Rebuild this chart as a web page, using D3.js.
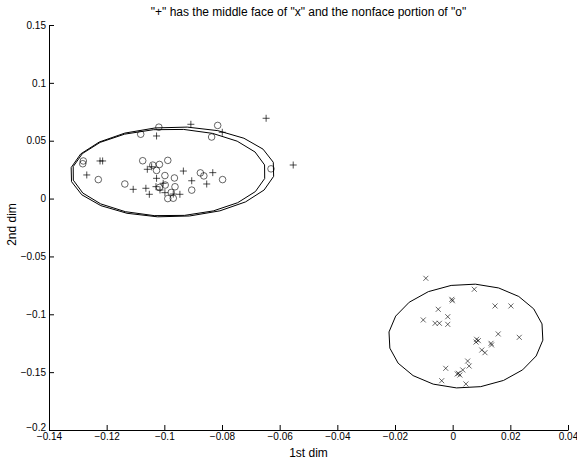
<!DOCTYPE html>
<html>
<head>
<meta charset="utf-8">
<script src="https://cdn.jsdelivr.net/npm/d3@7"></script>
<style>
body { margin: 0; background: #fff; }
svg text { font-family: "Liberation Sans", Arial, Helvetica, sans-serif; fill: #000; }
.axis path, .axis line { stroke: #000; stroke-width: 1; }
</style>
</head>
<body>
<div id="chart"></div>
<script>
// "o" points: nonface portion
const circlePts = [
    [-0.1281, 0.0325], [-0.1283, 0.0301], [-0.1229, 0.0164], [-0.1137, 0.0126],
    [-0.1082, 0.0556], [-0.1019, 0.0617], [-0.1075, 0.0327], [-0.1040, 0.0289],
    [-0.1017, 0.0295], [-0.0988, 0.0330], [-0.1027, 0.0243], [-0.0998, 0.0199],
    [-0.0965, 0.0178], [-0.1017, 0.0096], [-0.0997, 0.0117], [-0.0963, 0.0102],
    [-0.0976, 0.0053], [-0.0988, 0.0000], [-0.0969, 0.0003], [-0.0905, 0.0073],
    [-0.0875, 0.0222], [-0.0863, 0.0196], [-0.0798, 0.0164], [-0.0836, 0.0532],
    [-0.0815, 0.0632], [-0.0630, 0.0257]
]

// "+" points: middle face
const plusPts = [
    [-0.0647, 0.0694], [-0.0553, 0.0290], [-0.0908, 0.0642], [-0.0799, 0.0573],
    [-0.1027, 0.0541], [-0.1223, 0.0325], [-0.1214, 0.0325], [-0.1269, 0.0204],
    [-0.1108, 0.0080], [-0.1064, 0.0089], [-0.1052, 0.0037], [-0.1059, 0.0253],
    [-0.1027, 0.0175], [-0.1029, 0.0103], [-0.0934, 0.0238], [-0.0905, 0.0154],
    [-0.0853, 0.0126], [-0.0832, 0.0224], [-0.0998, 0.0051], [-0.0969, 0.0039],
    [-0.0946, 0.0037], [-0.1015, 0.0074], [-0.1004, 0.0132], [-0.1044, 0.0275]
]

// "x" points: face
const crossPts = [
    [-0.0093, -0.0689], [0.0075, -0.0784], [-0.0003, -0.0871], [-0.0001, -0.0883],
    [-0.0050, -0.0957], [0.0147, -0.0928], [0.0202, -0.0928], [-0.0102, -0.1049],
    [-0.0061, -0.1078], [-0.0046, -0.1078], [-0.0017, -0.1021], [-0.0017, -0.1087],
    [0.0083, -0.1216], [0.0089, -0.1228], [0.0081, -0.1240], [0.0133, -0.1251],
    [0.0135, -0.1265], [0.0158, -0.1170], [0.0231, -0.1199], [0.0101, -0.1309],
    [0.0112, -0.1332], [0.0052, -0.1404], [0.0057, -0.1447], [0.0035, -0.1481],
    [0.0020, -0.1510], [0.0025, -0.1525], [0.0016, -0.1516], [-0.0024, -0.1467],
    [-0.0038, -0.1574], [0.0046, -0.1602]
]

// ellipses: centre, semi axes (data units), tilt in degrees
const ellipseCentres = [[-0.0972, 0.0230], [-0.0984, 0.0225], [0.0046, -0.1188]]
const ellipseRadii = [[0.0355, 0.0389], [0.0336, 0.0376], [0.0269, 0.0449]]
const ellipseTilt = [-1.5, -0.5, -3]

const xTicks = [-0.14, -0.12, -0.1, -0.08, -0.06, -0.04, -0.02, 0, 0.02, 0.04]
const xTickLabels = ['\u22120.14', '\u22120.12', '\u22120.1', '\u22120.08', '\u22120.06',
    '\u22120.04', '\u22120.02', '0', '0.02', '0.04']
const yTicks = [-0.2, -0.15, -0.1, -0.05, 0, 0.05, 0.1, 0.15]
const yTickLabels = ['\u22120.2', '\u22120.15', '\u22120.1', '\u22120.05', '0', '0.05', '0.1', '0.15']

const title = '"+" has the middle face of "x" and the nonface portion of "o"'

const W = 577, H = 461
const margin = {left: 49, top: 25, right: 9, bottom: 31}
const width = W - margin.left - margin.right
const height = H - margin.top - margin.bottom

const svg = d3.select('#chart').append('svg')
    .attr('width', W)
    .attr('height', H)

const g = svg.append('g')
    .attr('transform', `translate(${margin.left},${margin.top})`)

const x = d3.scaleLinear().domain([-0.14, 0.04]).range([0, width])
const y = d3.scaleLinear().domain([-0.2, 0.15]).range([height, 0])

const xAxis = d3.axisBottom(x)
    .tickValues(xTicks)
    .tickFormat((d, i) => xTickLabels[i])
    .tickSizeInner(-5)
    .tickSizeOuter(0)
    .tickPadding(3)

const yAxis = d3.axisLeft(y)
    .tickValues(yTicks)
    .tickFormat((d, i) => yTickLabels[i])
    .tickSizeInner(-5)
    .tickSizeOuter(0)
    .tickPadding(3)

g.append('g')
    .attr('class', 'axis')
    .attr('transform', `translate(0,${height})`)
    .call(xAxis)
    .selectAll('text')
    .attr('font-size', 10)

const yAxisG = g.append('g')
    .attr('class', 'axis')
    .call(yAxis)
yAxisG.selectAll('text')
    .attr('font-size', 10)
// the lowest y label sits a little higher, where it meets the x labels
yAxisG.selectAll('.tick')
    .filter(d => d === yTicks[0])
    .select('text')
    .attr('dy', '0em')

g.selectAll('.axis text').attr('fill', '#000').style('font-family', null)

// ellipses, drawn as 20-sided polygons like the original
const ellipseLine = d3.line().curve(d3.curveLinearClosed)
const nSeg = 20
ellipseCentres.forEach((c, i) => {
    const cx = x(c[0]), cy = y(c[1])
    const rx = x(c[0] + ellipseRadii[i][0]) - cx
    const ry = cy - y(c[1] + ellipseRadii[i][1])
    const a = ellipseTilt[i] * Math.PI / 180
    const pts = d3.range(nSeg).map(k => {
        const t = (k + 0.5) * 2 * Math.PI / nSeg
        const ex = rx * Math.cos(t), ey = ry * Math.sin(t)
        return [cx + ex * Math.cos(a) - ey * Math.sin(a), cy + ex * Math.sin(a) + ey * Math.cos(a)]
    })
    g.append('path')
        .attr('d', ellipseLine(pts))
        .attr('fill', 'none')
        .attr('stroke', '#000')
        .attr('stroke-width', 1)
})

// markers
g.selectAll('.circ')
    .data(circlePts)
    .join('circle')
    .attr('class', 'circ')
    .attr('cx', d => x(d[0]))
    .attr('cy', d => y(d[1]))
    .attr('r', 3.3)
    .attr('fill', 'none')
    .attr('stroke', '#000')
    .attr('stroke-width', 0.6)

g.selectAll('.plus')
    .data(plusPts)
    .join('path')
    .attr('class', 'plus')
    .attr('d', d => `M${x(d[0]) - 3.5},${y(d[1])}h7M${x(d[0])},${y(d[1]) - 3.5}v7`)
    .attr('stroke', '#000')
    .attr('stroke-width', 0.7)

g.selectAll('.cross')
    .data(crossPts)
    .join('path')
    .attr('class', 'cross')
    .attr('d', d => {
        const px = x(d[0]), py = y(d[1]), s = 2.5
        return `M${px - s},${py - s}L${px + s},${py + s}M${px - s},${py + s}L${px + s},${py - s}`
    })
    .attr('stroke', '#000')
    .attr('stroke-width', 0.6)

// title and axis labels
svg.append('text')
    .attr('x', margin.left + width / 2)
    .attr('y', 16)
    .attr('text-anchor', 'middle')
    .attr('font-size', 12)
    .text(title)

svg.append('text')
    .attr('x', margin.left + width / 2)
    .attr('y', 457)
    .attr('text-anchor', 'middle')
    .attr('font-size', 12)
    .text('1st dim')

svg.append('text')
    .attr('transform', `translate(16,${margin.top + height / 2 - 3}) rotate(-90)`)
    .attr('text-anchor', 'middle')
    .attr('font-size', 12)
    .text('2nd dim')
</script>
</body>
</html>
